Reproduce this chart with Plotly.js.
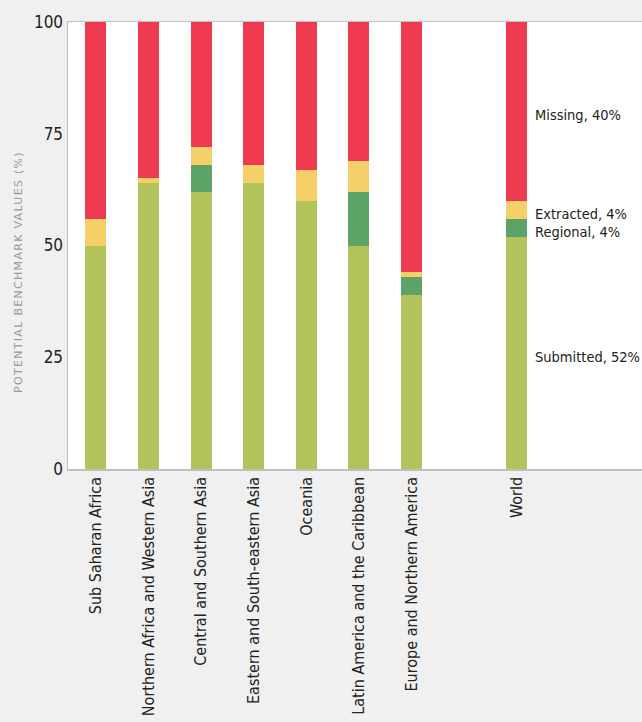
<!DOCTYPE html>
<html>
<head>
<meta charset="utf-8">
<script src="https://cdn.plot.ly/plotly-3.0.1.min.js"></script>
<style>
  html, body { margin: 0; padding: 0; background: #f0f0f0; overflow: hidden; }
  #chart { width: 642px; height: 722px; }
  g.annotation[data-index="4"] text { letter-spacing: 1.3px; }
</style>
</head>
<body>
<div id="chart"></div>
<script>
const categories = [
  'Sub Saharan Africa',
  'Northern Africa and Western Asia',
  'Central and Southern Asia',
  'Eastern and South-eastern Asia',
  'Oceania',
  'Latin America and the Caribbean',
  'Europe and Northern America',
  'World'
];
const gapCategory = ' ';
const submitted = [50, 64, 62, 64, 60, 50, 39, 52];
const regional  = [0, 0, 6, 0, 0, 12, 4, 4];
const extracted = [6, 1, 4, 4, 7, 7, 1, 4];
const missing   = [44, 35, 28, 32, 33, 31, 56, 40];
const yTicks = [0, 25, 50, 75, 100];
const yTitle = 'POTENTIAL BENCHMARK VALUES (%)';

const seriesNames = ['Submitted', 'Regional', 'Extracted', 'Missing'];
const seriesData = [submitted, regional, extracted, missing];
const seriesColors = ['#b3c35b', '#5ba366', '#f5d068', '#ef3a4f'];

const font = 'Liberation Sans Narrow, DejaVu Sans Condensed, Roboto, sans-serif';

const traces = seriesNames.map((name, i) => ({
  type: 'bar',
  name: name,
  x: categories,
  y: seriesData[i],
  marker: { color: seriesColors[i], line: { width: 0 } },
  hoverinfo: 'x+y+name'
}));

// Annotations at the middle of each World segment
const worldIdx = categories.indexOf('World');
let cum = 0;
const annotations = seriesNames.map((name, i) => {
  const v = seriesData[i][worldIdx];
  const mid = cum + v / 2;
  cum += v;
  return {
    x: 'World', y: mid, xref: 'x', yref: 'y',
    text: name + ', ' + v + '%',
    showarrow: false, xanchor: 'left', yanchor: 'middle',
    xshift: 16, yshift: -4,
    font: { family: font, size: 14.5, color: '#222' }
  };
});
annotations.push({
  x: -0.087, y: 0.44, xref: 'paper', yref: 'paper',
  text: yTitle, textangle: -90,
  showarrow: false, xanchor: 'center', yanchor: 'middle',
  font: { family: 'DejaVu Sans, sans-serif', size: 11, color: '#9a9a9a' }
});

const categoryOrder = categories.slice(0, 7).concat([gapCategory, 'World']);

const layout = {
  width: 642, height: 722,
  margin: { l: 68, r: 0, t: 22, b: 253 },
  paper_bgcolor: '#f0f0f0',
  plot_bgcolor: '#ffffff',
  barmode: 'stack',
  bargap: 0.6,
  showlegend: false,
  xaxis: {
    type: 'category',
    categoryorder: 'array',
    categoryarray: categoryOrder,
    range: [-0.53, 10.38],
    tickangle: -90,
    showline: true, mirror: true, linecolor: '#bfbfbf', linewidth: 1.5,
    showgrid: false, ticks: '',
    tickfont: { family: font, size: 16, color: '#222' }
  },
  yaxis: {
    range: [0, 100],
    tickvals: yTicks,
    showline: true, linecolor: '#bfbfbf', linewidth: 1.5,
    showgrid: false, zeroline: false, ticks: '',
    tickfont: { family: font, size: 17, color: '#222' }
  },
  annotations: annotations
};

Plotly.newPlot('chart', traces, layout, { displayModeBar: false, staticPlot: true });
</script>
</body>
</html>
